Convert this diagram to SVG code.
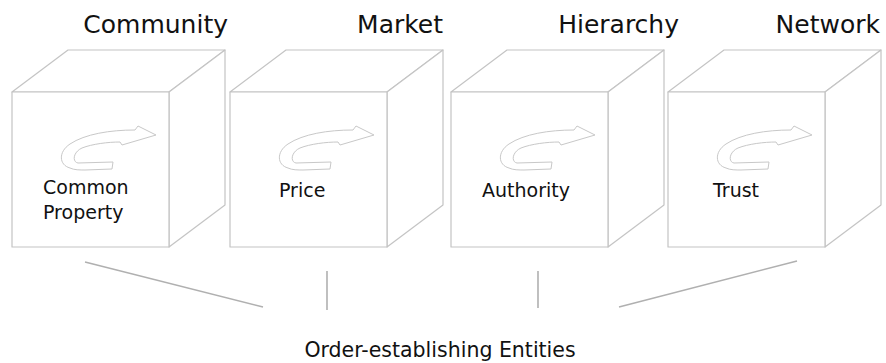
<svg xmlns="http://www.w3.org/2000/svg" width="886" height="363" viewBox="0 0 886 363">
<style>
.cube{fill:#fff;stroke:#c4c4c4;stroke-width:1.2;stroke-linejoin:round}
.arr{fill:#fff;stroke:#c8c8c8;stroke-width:1}
.title{font-family:"DejaVu Sans",sans-serif;font-size:25px;fill:#111;text-anchor:end}
.lbl{font-family:"DejaVu Sans",sans-serif;font-size:19px;fill:#111}
.foot{font-family:"DejaVu Sans",sans-serif;font-size:20.5px;fill:#111;text-anchor:middle}
.con{stroke:#b0b0b0;stroke-width:1.6;fill:none}
</style>
<defs>
<g id="box">
<path class="cube" d="M0 0 L56 -42 L213 -42 L157 0 Z"/>
<path class="cube" d="M157 0 L213 -42 L213 113 L157 155 Z"/>
<rect class="cube" x="0" y="0" width="157" height="155"/>
<path class="arr" d="M101 70 L66 71 C60 70 61 60 70 56 C80 52 96 50 108 50 L110 53 L144 43 L126 34 L123 38 C98 38 73 42 58 52 C46 60 47 73 58 76 C62 78 68 78 73 78 L100 77 Z"/>
</g>
</defs>
<g id="community">
<text class="title" x="228" y="33">Community</text>
<use href="#box" x="12" y="92"/>
<text class="lbl" x="43" y="194">Common</text>
<text class="lbl" x="43" y="219">Property</text>
</g>
<g id="market">
<text class="title" x="443" y="33">Market</text>
<use href="#box" x="230" y="92"/>
<text class="lbl" x="279" y="197">Price</text>
</g>
<g id="hierarchy">
<text class="title" x="679" y="33">Hierarchy</text>
<use href="#box" x="451" y="92"/>
<text class="lbl" x="482" y="197">Authority</text>
</g>
<g id="network">
<text class="title" x="880" y="33">Network</text>
<use href="#box" x="668" y="92"/>
<text class="lbl" x="713" y="197">Trust</text>
</g>
<g id="connectors">
<line class="con" x1="85" y1="262" x2="263" y2="307"/>
<line class="con" x1="327" y1="271" x2="327" y2="310"/>
<line class="con" x1="538" y1="271" x2="538" y2="308"/>
<line class="con" x1="619" y1="307" x2="797" y2="261"/>
</g>
<g id="entities">
<text class="foot" x="440" y="357">Order-establishing Entities</text>
</g>
</svg>
